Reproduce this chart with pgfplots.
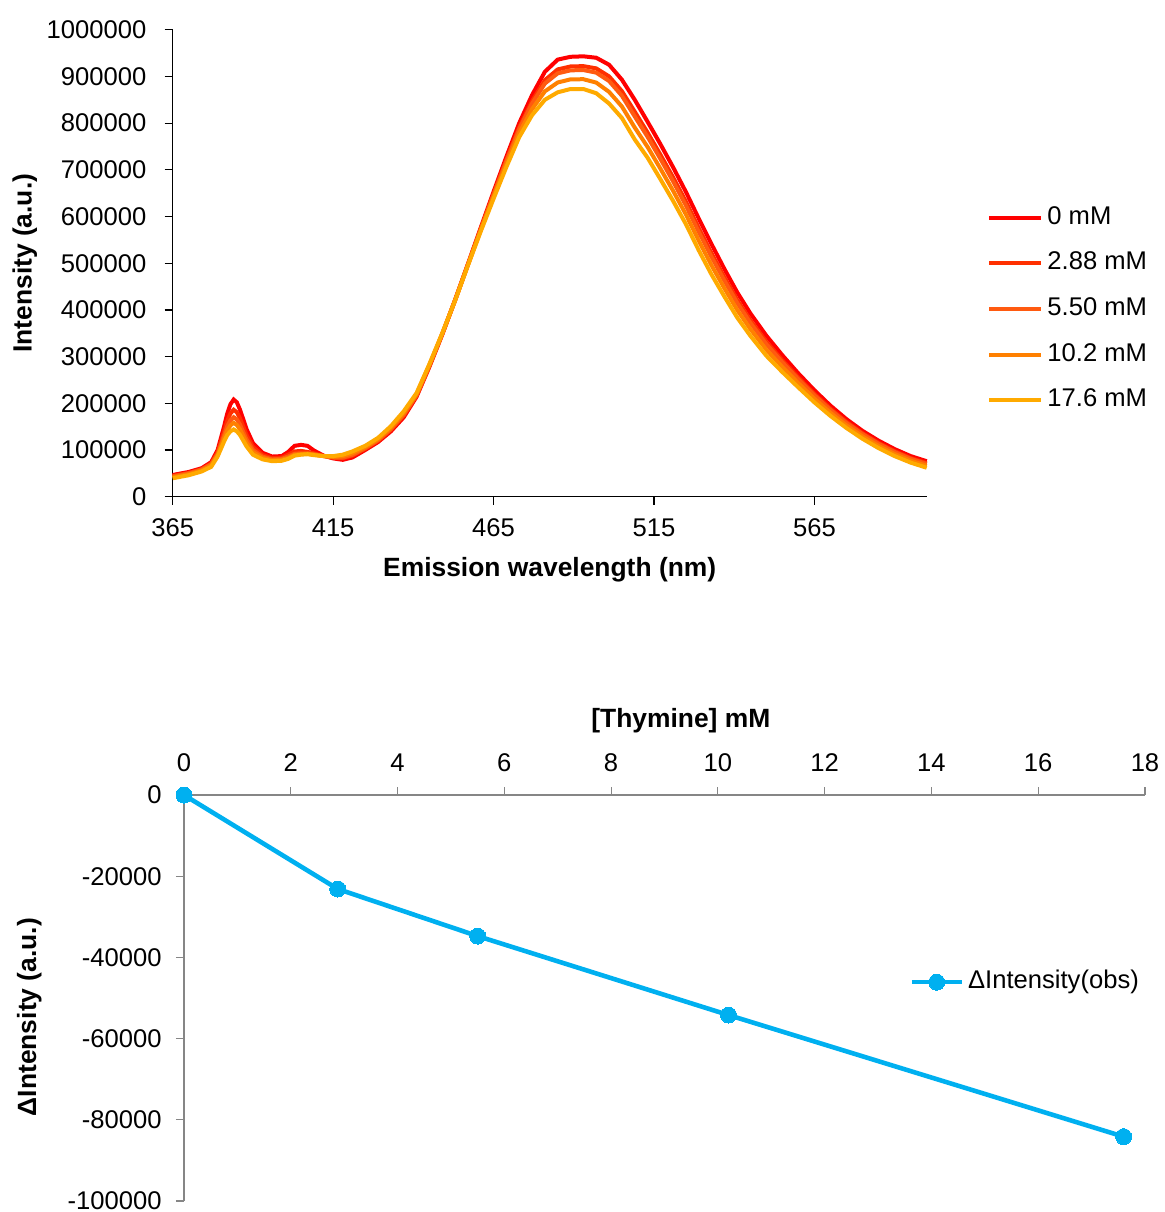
\documentclass[border=0pt]{standalone}
\usepackage{pgfplots}
\usepackage{pgfplotstable}
\pgfplotsset{compat=1.18}
\usepackage{fontspec}
\setmainfont{Liberation Sans}

\definecolor{c0}{RGB}{255,0,0}
\definecolor{c1}{RGB}{255,48,0}
\definecolor{c2}{RGB}{255,90,16}
\definecolor{c3}{RGB}{255,128,0}
\definecolor{c4}{RGB}{255,170,0}
\definecolor{cb}{RGB}{0,176,240}
\definecolor{axgray}{RGB}{134,134,134}

\pgfplotstableread{
wl c0 c1 c2 c3 c4
365 46500 44400 43600 41600 39500
370 53000 50900 50100 48100 46000
374 61000 58900 58100 56100 54000
377 74000 71000 69800 67000 64000
379 100000 95200 91700 89100 86000
381 150000 139100 131100 125000 118000
382 178000 162400 150900 142100 132000
383 198000 178300 163800 152800 140000
384 208000 186200 170200 158100 144000
385 202000 180900 165400 153600 140000
386 186000 167600 154100 143900 132000
388 145000 132400 123200 116100 108000
390 115000 106500 100300 95500 90000
393 94000 89200 85700 83100 80000
396 86000 82600 80100 78200 76000
399 87000 83600 81100 79200 77000
401 96000 90000 86000 83000 81000
403 109000 97000 92000 90000 88000
405 111000 98000 93000 91000 90000
407 109000 96000 93000 92000 91000
409 99000 93000 91000 90000 89000
412 88000 87500 87000 87000 87000
415 82000 83500 84000 85500 87000
418 79000 82300 83600 86700 90000
421 84000 87900 89500 93100 97000
425 100000 102700 103800 106300 109000
429 117000 119700 120800 123300 126000
433 140000 143300 144600 147700 151000
437 170000 173900 175500 179100 183000
441 214000 216400 217400 219600 222000
445 278000 279800 280500 282200 284000
449 347000 348000 348500 349000 350000
453 421000 421000 420500 420000 420000
457 498000 497000 496500 496000 495000
461 576000 573600 572600 570400 568000
465 653000 648500 646700 642500 638000
469 728000 721400 718800 712600 706000
473 800000 791000 787400 779000 770000
477 860000 847100 841900 829900 817000
481 910000 892000 884800 868000 850000
485 936000 915000 906600 887000 866000
489 942000 921300 913000 893700 873000
493 943000 922000 913600 894000 873000
497 940000 917200 908100 886800 864000
501 925000 900100 890100 866900 842000
505 893000 868400 858600 835600 811000
509 850000 824500 814300 790500 765000
513 803000 779900 770700 749100 726000
517 755000 732500 723500 702500 680000
521 705000 683400 674800 654600 633000
525 652000 631300 623000 603700 583000
529 595000 574600 566400 547400 527000
533 540000 520500 512700 494500 475000
537 487000 469300 462200 445700 428000
541 437000 420800 414300 399200 383000
545 393000 378600 372800 359400 345000
550 345000 332100 326900 314900 302000
555 303000 292200 287900 277800 267000
560 264000 255000 251400 243000 234000
565 228000 220200 217100 209800 202000
570 195000 188400 185800 179600 173000
575 166000 160300 158000 152700 147000
580 141000 135900 133900 129100 124000
585 120000 115200 113300 108800 104000
590 102000 97500 95700 91500 87000
595 87000 82800 81100 77200 73000
600 76000 71800 70100 66200 62000
}\spectra

\pgfplotstableread{
conc dI
0 0
2.88 -23150
5.50 -34750
10.2 -54200
17.6 -84150
}\delta

\newcommand{\tickfont}{\fontsize{12.8}{15}\selectfont}
\newcommand{\labfont}{\fontsize{13.2}{16}\selectfont\bfseries}

\begin{document}
\begin{tikzpicture}
\useasboundingbox (0,0) rectangle (582pt,-606pt);
\begin{axis}[
  at={(86.35pt,-248.35pt)}, anchor=south west,
  scale only axis, width=377pt, height=233.5pt,
  xmin=365, xmax=600, ymin=0, ymax=1000000,
  axis x line*=bottom, axis y line*=left,
  axis line style={black, line width=0.6pt, -},
  tick align=outside, major tick length=4pt,
  tick style={black, line width=0.6pt},
  xtick={365,415,465,515,565},
  ytick={0,100000,200000,300000,400000,500000,600000,700000,800000,900000,1000000},
  scaled ticks=false,
  /pgf/number format/fixed,
  /pgf/number format/1000 sep={},
  /pgf/number format/assume math mode=true,
  tick label style={font=\tickfont, inner sep=0pt},
  xticklabel style={yshift=-7pt},
  yticklabel style={xshift=-9pt},
  xlabel={Emission wavelength (nm)},
  ylabel={Intensity (a.u.)},
  label style={font=\labfont},
  xlabel style={at={(axis description cs:0.5,-0.157)}, anchor=center},
  ylabel style={at={(axis description cs:-0.196,0.5)}, anchor=center},
  clip=false,
  legend cell align=left,
  legend image code/.code={\draw[#1] (0pt,0pt) -- (26pt,0pt);},
  legend style={at={(rel axis cs:1.080,0.402)}, anchor=west, draw=none, fill=none,
    inner sep=0pt, font=\tickfont, row sep=10.8pt, column sep=2pt,
    nodes={inner sep=0pt, text height=9.3pt, text depth=2.7pt}},
]
\addplot[c0, line width=2pt] table[x=wl, y=c0] {\spectra};
\addlegendentry{0 mM}
\addplot[c1, line width=2pt] table[x=wl, y=c1] {\spectra};
\addlegendentry{2.88 mM}
\addplot[c2, line width=2pt] table[x=wl, y=c2] {\spectra};
\addlegendentry{5.50 mM}
\addplot[c3, line width=2pt] table[x=wl, y=c3] {\spectra};
\addlegendentry{10.2 mM}
\addplot[c4, line width=2pt] table[x=wl, y=c4] {\spectra};
\addlegendentry{17.6 mM}
\end{axis}

\begin{axis}[
  at={(92pt,-600.5pt)}, anchor=south west,
  scale only axis, width=480.5pt, height=203pt,
  xmin=0, xmax=18, ymin=-100000, ymax=0,
  axis x line*=top, axis y line*=left,
  axis line style={axgray, line width=0.6pt, -},
  tick align=outside, major tick length=4pt,
  tick style={axgray, line width=0.6pt},
  scaled ticks=false,
  xtick={0,2,4,6,8,10,12,14,16,18},
  xticklabels={0,2,4,6,8,10,12,14,16,18},
  ytick={-100000,-80000,-60000,-40000,-20000,0},
  yticklabels={-100000,-80000,-60000,-40000,-20000,0},
  tick label style={font=\tickfont, inner sep=0pt},
  xticklabel style={yshift=7.5pt},
  yticklabel style={xshift=-7pt},
  xlabel={[Thymine] mM},
  ylabel={ΔIntensity (a.u.)},
  label style={font=\labfont},
  xlabel style={at={(axis description cs:0.517,1.183)}, anchor=center},
  ylabel style={at={(axis description cs:-0.161,0.453)}, anchor=center},
  clip=false,
  legend cell align=left,
  legend image code/.code={\draw[mark repeat=2,mark phase=2,#1] plot coordinates {(0pt,0pt) (12.5pt,0pt) (25pt,0pt)};},
  legend style={at={(axis description cs:0.7545,0.539)}, anchor=west, draw=none, fill=none,
    inner sep=0pt, font=\tickfont, column sep=2pt,
    nodes={inner sep=0pt, text height=9.3pt, text depth=2.7pt}},
]
\addplot[cb, line width=2.3pt, mark=*, mark size=4pt, mark options={solid, fill=cb, draw=cb, line width=0pt}] table[x=conc, y=dI] {\delta};
\addlegendentry{ΔIntensity(obs)}
\end{axis}
\end{tikzpicture}
\end{document}
